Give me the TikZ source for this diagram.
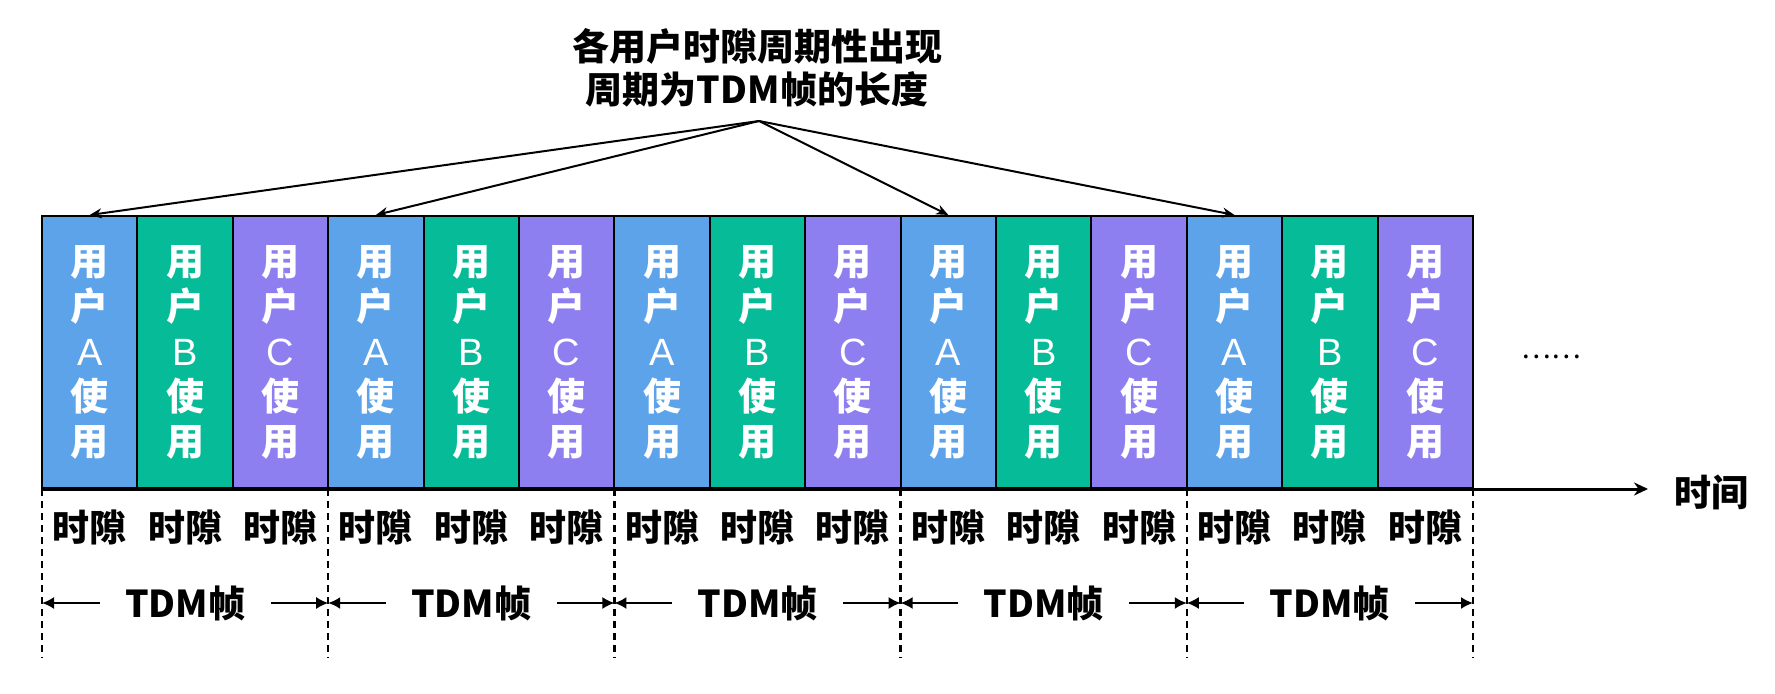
\documentclass[tikz,border=0pt]{standalone}
\usepackage{fontspec}
\setmainfont{Noto Sans CJK SC}
\newfontfamily\latinfont{Liberation Sans}
\usetikzlibrary{arrows.meta}
\definecolor{ublue}{HTML}{5DA3EA}
\definecolor{ugreen}{HTML}{06BB98}
\definecolor{upurple}{HTML}{8E7FF0}
\begin{document}
\begin{tikzpicture}[x=0.5pt,y=-0.5pt,>={Stealth[length=6pt,width=5pt]},
  slotbox/.style={draw,line width=1pt,minimum width=47.7pt,minimum height=136pt,inner sep=0pt,
    text=white,align=center,font=\bfseries\fontsize{19}{22.5}\selectfont},
  lbl/.style={font=\bfseries\fontsize{18.5}{21.5}\selectfont,inner sep=0pt},
  frameline/.style={line width=1.2pt,dash pattern=on 3.5pt off 2.5pt},
  dimarrow/.style={->,>={Latex[length=6pt,width=6pt]},line width=0.9pt}]
   \useasboundingbox (0,0) rectangle (1775,694);

   % 时隙
   \foreach \f in {0,...,4} {
     \foreach \u/\c [count=\k from 0] in {A/ublue,B/ugreen,C/upurple} {
       \node[slotbox,fill=\c] (s\f\u) at ({42+(3*\f+\k)*95.4+47.7},352) {用\\户\\{\latinfont\mdseries\u}\\使\\用};
       \node[lbl] (t\f\u) at ({42+(3*\f+\k)*95.4+47.7},527) {时隙};
     }
   }
   \node[font=\fontsize{14}{14}\selectfont] (dots) at (1551,357) {……};

   % 座标轴
   \coordinate (axisend) at (1648,489);
   \draw[line width=1.5pt,->,>={Stealth[length=7pt,width=6.5pt]}] (s0A.south west) -- (axisend);
   \node[lbl] (time) at (1711,492) {时间};

   % 帧
   \foreach \f in {0,...,5}
     \coordinate (b\f) at ({42+\f*286.2},489);
   \foreach \f in {0,...,5}
     \draw[frameline] (b\f) -- ++(0,169);
   \foreach \f [count=\n from 1] in {0,...,4} {
     \node[lbl,inner xsep=12.5pt] (fr\f) at ({42+\f*286.2+143.1},603) {TDM帧};
     \draw[dimarrow] (fr\f.west) -- (fr\f.west -| b\f);
     \draw[dimarrow] (fr\f.east) -- (fr\f.east -| b\n);
   }

   % 说明
   \node[lbl,align=center] (title) at (757,68) {各用户时隙周期性出现\\周期为TDM帧的长度};
   \coordinate (apex) at (759,121);
   \foreach \f in {0,1,3,4}
     \draw[->,line width=1pt] (apex) -- (s\f A.north);
\end{tikzpicture}
\end{document}
